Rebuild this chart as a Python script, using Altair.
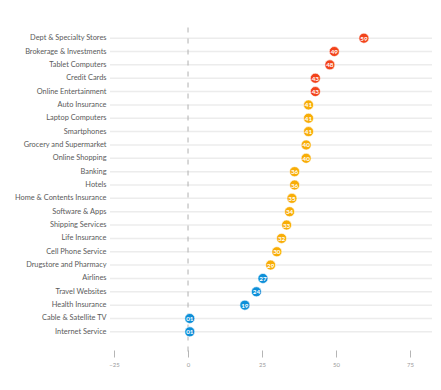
import altair as alt
import pandas as pd

categories = [
    "Dept & Specialty Stores", "Brokerage & Investments", "Tablet Computers",
    "Credit Cards", "Online Entertainment", "Auto Insurance", "Laptop Computers",
    "Smartphones", "Grocery and Supermarket", "Online Shopping", "Banking",
    "Hotels", "Home & Contents Insurance", "Software & Apps", "Shipping Services",
    "Life Insurance", "Cell Phone Service", "Drugstore and Pharmacy", "Airlines",
    "Travel Websites", "Health Insurance", "Cable & Satellite TV", "Internet Service",
]
scores = [59, 49, 48, 43, 43, 41, 41, 41, 40, 40, 36, 36, 35, 34, 33, 32, 30, 29,
          27, 24, 19, 1, 1]
positions = [59.4, 49.4, 47.9, 43.0, 43.0, 40.7, 40.7, 40.7, 39.9, 39.9, 36.0,
             36.0, 35.1, 34.3, 33.3, 31.6, 30.0, 27.9, 25.3, 23.1, 19.2, 0.6, 0.6]
tiers = ["high"] * 5 + ["mid"] * 13 + ["low"] * 5
tier_names = ["high", "mid", "low"]
tier_colors = ["#f2431a", "#f8ad06", "#0d8fd8"]
x_ticks = [-25, 0, 25, 50, 75]

df = pd.DataFrame({
    "category": categories,
    "score": scores,
    "pos": positions,
    "tier": tiers,
    "label": [f"{s:02d}" for s in scores],
})

W, H = 322, 307
xscale = alt.Scale(domain=[-26.35, 82.4], nice=False, zero=False)
yscale = alt.Scale(domain=categories, paddingInner=0, paddingOuter=0)

base = alt.Chart(df)

grid = base.mark_rule(color="#ececec", strokeWidth=1.5).encode(
    y=alt.Y("category:N", scale=yscale, sort=categories,
            axis=alt.Axis(title=None, domain=False, ticks=False, grid=False,
                          labelPadding=4, labelFont="Lato", labelFontSize=7.4,
                          labelColor="#5a5a5a")),
    x=alt.value(0), x2=alt.value(W),
)

zero = alt.Chart(pd.DataFrame({"v": [0]})).mark_rule(
    color="#b0b0b0", strokeWidth=1, strokeDash=[5, 6], clip=False
).encode(
    x=alt.X("v:Q", scale=xscale,
            axis=alt.Axis(title=None, values=x_ticks, domain=False, grid=False,
                          tickColor="#b5b5b5", tickSize=7, tickWidth=1,
                          offset=11.5, labelPadding=4, labelFont="Lato",
                          labelFontSize=6, labelColor="#9a9a9a")),
    y=alt.value(-4), y2=alt.value(H + 19),
)

dots = base.mark_circle(size=100, opacity=1, stroke="white", strokeWidth=0.6).encode(
    x=alt.X("pos:Q", scale=xscale),
    y=alt.Y("category:N", scale=yscale, sort=categories),
    color=alt.Color("tier:N", scale=alt.Scale(domain=tier_names, range=tier_colors),
                    legend=None),
)

labels = base.mark_text(color="white", fontSize=6.3, fontWeight="bold",
                        font="Lato", baseline="middle", dy=0.5).encode(
    x=alt.X("pos:Q", scale=xscale),
    y=alt.Y("category:N", scale=yscale, sort=categories),
    text="label:N",
)

chart = alt.layer(grid, zero, dots, labels).properties(
    width=W, height=H,
    padding={"left": 102, "top": 23.5, "right": 1, "bottom": 30},
    autosize="none",
    background="white",
).configure_view(stroke=None)

chart.save("out.html", embed_options={"renderer": "svg", "actions": False})
